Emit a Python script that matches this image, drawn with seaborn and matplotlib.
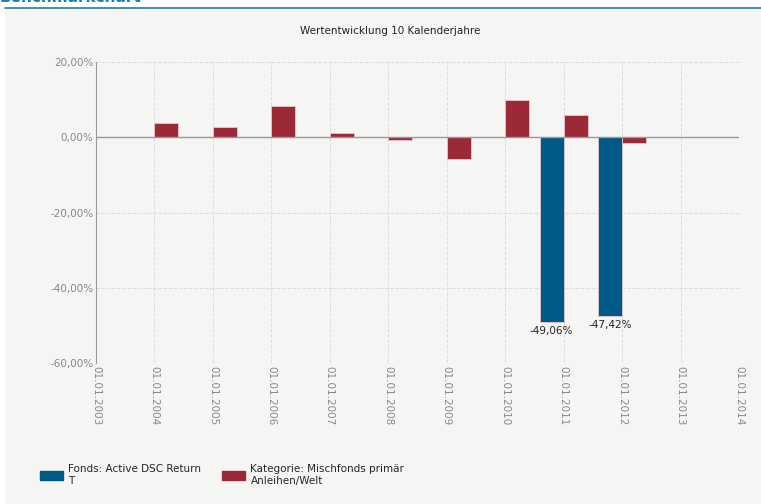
import numpy as np
import pandas as pd
import matplotlib
matplotlib.use("Agg")
import matplotlib.pyplot as plt
import matplotlib.patches as mpatches
import seaborn as sns

years = ["01.01.2003", "01.01.2004", "01.01.2005", "01.01.2006", "01.01.2007",
         "01.01.2008", "01.01.2009", "01.01.2010", "01.01.2011", "01.01.2012",
         "01.01.2013", "01.01.2014"]
fonds = [np.nan, np.nan, np.nan, np.nan, np.nan, np.nan, np.nan, np.nan,
         -49.06, -47.42, np.nan, np.nan]
kategorie = [np.nan, 3.7, 2.7, 8.3, 1.1, -0.7, -5.9, 9.9, 5.9, -1.5, np.nan, np.nan]
series_names = ["Fonds: Active DSC Return\nT", "Kategorie: Mischfonds primär\nAnleihen/Welt"]
colors = ["#005a87", "#9b2a36"]
y_ticks = [-60, -40, -20, 0, 20]

df = pd.concat([
    pd.DataFrame({"Jahr": years, "Wert": fonds, "Serie": series_names[0]}),
    pd.DataFrame({"Jahr": years, "Wert": kategorie, "Serie": series_names[1]}),
]).dropna()

sns.set_style("white")
plt.rcParams["font.family"] = ["DejaVu Sans"]

bg = "#f5f5f3"
fig = plt.figure(figsize=(7.61, 5.04), dpi=100, facecolor="white")
fig.patches.append(mpatches.Rectangle((5 / 761, 0), 1, 1 - 9 / 504, transform=fig.transFigure,
                                      facecolor=bg, edgecolor="none", zorder=-10))
fig.lines.append(plt.Line2D([5 / 761, 1], [1 - 8 / 504, 1 - 8 / 504], transform=fig.transFigure,
                            color="#1f7cae", lw=1.2))
# header of the page, cut off at the top edge as in the source
fig.text(0.0, 1 - 2 / 504, "Benchmarkchart", color="#1f7cae", fontsize=11,
         fontweight="bold", va="baseline", ha="left")

ax = fig.add_axes([96 / 761, 1 - 363 / 504, (739 - 96) / 761, (363 - 62) / 504])
ax.set_facecolor(bg)

sns.barplot(data=df, x="Jahr", y="Wert", hue="Serie", order=years,
            hue_order=series_names, palette=colors, saturation=1, width=0.82,
            errorbar=None, edgecolor="#e8c8cc", linewidth=0.6, ax=ax,
            legend=False, zorder=3)

for i, c in enumerate(ax.containers):
    if i == 0:
        labels = [f"{v:.2f}%".replace(".", ",") for v in c.datavalues]
        ax.bar_label(c, labels=labels, padding=3, fontsize=7.5, color="#222222")

ax.set_xlim(0, len(years) - 1)
ax.set_ylim(-60, 20)
ax.set_yticks(y_ticks)
ax.set_yticklabels([f"{v:.2f}%".replace(".", ",") for v in y_ticks], fontsize=7.5, color="#888888")
ax.set_xticks(range(len(years)))
ax.set_xticklabels(years, rotation=270, fontsize=7.5, color="#888888")
ax.tick_params(axis="both", length=0, pad=2)
ax.grid(True, color="#dddddd", linestyle="--", linewidth=0.7, zorder=0)
ax.axhline(0, color="#999999", lw=1, zorder=4)
for s in ["top", "right", "bottom"]:
    ax.spines[s].set_visible(False)
ax.spines["left"].set_color("#999999")
ax.set_xlabel("")
ax.set_ylabel("")

fig.text(390 / 761, 1 - 31 / 504, "Wertentwicklung 10 Kalenderjahre", fontsize=7.5,
         color="#222222", ha="center", va="center")

handles = [mpatches.Patch(color=c) for c in colors]
fig.legend(handles, series_names, loc="lower left", bbox_to_anchor=(31 / 761, 1 - 495 / 504),
           ncol=2, frameon=False, fontsize=7.5, handlelength=2.2, handleheight=0.9,
           columnspacing=2.0, handletextpad=0.5)

fig.savefig("out.png", dpi=100, facecolor=fig.get_facecolor())
